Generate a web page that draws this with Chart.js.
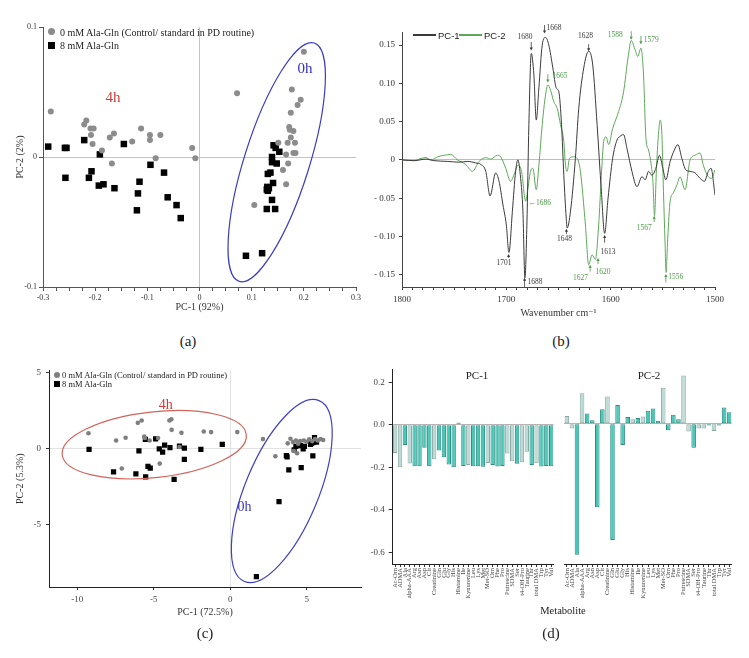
<!DOCTYPE html>
<html lang="en">
<head>
<meta charset="UTF-8">
<title>PCA scores and loadings</title>
<script src="https://cdn.jsdelivr.net/npm/chart.js"></script>
<style>
    body { margin: 0; background: #fff; }
    #figure { position: relative; width: 749px; height: 658px; overflow: hidden;
              font-family: "Liberation Serif", "DejaVu Serif", serif; color: #222; }
    #figure canvas { position: absolute; }
    .txt { position: absolute; transform: translate(-50%, -50%); white-space: nowrap; }
    .leg { position: absolute; transform: translateY(-50%); white-space: nowrap; }
    .sym { position: absolute; }
</style>
</head>
<body>
<div id="figure">
    <canvas id="chartA" width="370" height="330" style="left:0;top:0"></canvas>
    <canvas id="chartB" width="379" height="330" style="left:370px;top:0"></canvas>
    <canvas id="chartC" width="370" height="270" style="left:0;top:360px"></canvas>
    <canvas id="chartD1" width="190" height="290" style="left:370px;top:360px"></canvas>
    <canvas id="chartD2" width="180" height="290" style="left:560px;top:360px"></canvas>

    <!-- legend (a) -->
    <span class="sym" style="left:48px;top:28px;width:7px;height:7px;border-radius:50%;background:#8c8c8c"></span>
    <div class="leg" style="left:60px;top:32px;font-size:10px">0 mM Ala-Gln (Control/ standard in PD routine)</div>
    <span class="sym" style="left:48px;top:42px;width:7px;height:7px;background:#000"></span>
    <div class="leg" style="left:60px;top:45px;font-size:10px">8 mM Ala-Gln</div>

    <!-- legend (b) -->
    <span class="sym" style="left:413px;top:34px;width:23px;height:2px;background:#3a3a3a"></span>
    <div class="leg" style="left:438px;top:35px;font-size:9.5px;font-family:'Liberation Sans',Arial,sans-serif">PC-1</div>
    <span class="sym" style="left:459px;top:34px;width:23px;height:2px;background:#5ea85a"></span>
    <div class="leg" style="left:484px;top:35px;font-size:9.5px;font-family:'Liberation Sans',Arial,sans-serif">PC-2</div>

    <!-- legend (c) -->
    <span class="sym" style="left:54px;top:372px;width:6px;height:6px;border-radius:50%;background:#7f7f7f"></span>
    <div class="leg" style="left:62px;top:375px;font-size:8.5px">0 mM Ala-Gln (Control/ standard in PD routine)</div>
    <span class="sym" style="left:54px;top:381px;width:6px;height:6px;background:#000"></span>
    <div class="leg" style="left:62px;top:384px;font-size:8.5px">8 mM Ala-Gln</div>

    <!-- facet strips and shared title (d) -->
    <div class="txt" style="left:477px;top:375px;font-size:11px">PC-1</div>
    <div class="txt" style="left:649px;top:375px;font-size:11px">PC-2</div>
    <div class="txt" style="left:563px;top:610px;font-size:10.5px">Metabolite</div>

    <!-- panel captions -->
    <div class="txt" style="left:188px;top:341px;font-size:15px">(a)</div>
    <div class="txt" style="left:561px;top:341px;font-size:15px">(b)</div>
    <div class="txt" style="left:205px;top:633px;font-size:15px">(c)</div>
    <div class="txt" style="left:551px;top:633px;font-size:15px">(d)</div>
</div>

<script>
    const SERIF = '"Liberation Serif", "DejaVu Serif", serif';

    // ---- (a) FTIR PCA scores ----
    const scoresA_ctrl = [[-0.285, 0.035], [-0.217, 0.028], [-0.221, 0.025], [-0.209, 0.022], [-0.203, 0.022], [-0.208, 0.017],
        [-0.205, 0.010], [-0.187, 0.005], [-0.168, -0.005], [-0.172, 0.015], [-0.164, 0.018], [-0.129, 0.012], [-0.112, 0.022],
        [-0.095, 0.017], [-0.095, 0.013], [-0.075, 0.017], [-0.084, -0.001], [-0.014, 0.007], [-0.008, -0.001], [0.072, 0.049],
        [0.200, 0.081], [0.177, 0.052], [0.194, 0.044], [0.188, 0.040], [0.175, 0.034], [0.172, 0.023], [0.173, 0.021],
        [0.180, 0.020], [0.175, 0.015], [0.183, 0.011], [0.169, 0.011], [0.151, 0.011], [0.180, 0.003], [0.184, 0.003],
        [0.166, 0.002], [0.170, -0.005], [0.160, -0.010], [0.166, -0.021], [0.105, -0.037]];
    const scoresA_ala = [[-0.290, 0.008], [-0.258, 0.007], [-0.255, 0.007], [-0.257, -0.016], [-0.221, 0.013], [-0.191, 0.002],
        [-0.207, -0.011], [-0.212, -0.016], [-0.193, -0.022], [-0.184, -0.021], [-0.163, -0.024], [-0.145, 0.010], [-0.115, -0.019],
        [-0.118, -0.028], [-0.120, -0.041], [-0.094, -0.006], [-0.068, -0.012], [-0.061, -0.031], [-0.044, -0.037], [-0.036, -0.047],
        [0.089, -0.076], [0.120, -0.074], [0.142, 0.009], [0.146, 0.007], [0.153, 0.004], [0.139, 0.000], [0.139, -0.004],
        [0.148, -0.005], [0.131, -0.013], [0.136, -0.012], [0.141, -0.020], [0.130, -0.023], [0.129, -0.025], [0.131, -0.026],
        [0.133, -0.024], [0.139, -0.033], [0.129, -0.040], [0.145, -0.040]];
    const xTicksA = [-0.3, -0.2, -0.1, 0, 0.1, 0.2, 0.3];
    const xLabelsA = ['-0.3', '-0.2', '-0.1', '0', '0.1', '0.2', '0.3'];
    const yTicksA = [-0.1, 0, 0.1];
    const yLabelsA = ['-0.1', '0', '0.1'];

    // ---- (b) FTIR loadings ----
    const wavenumberPC1 = [1800, 1788.2, 1777.1, 1769.4, 1756.1, 1745.5, 1736.9, 1729.3, 1724.5, 1719.7, 1715.6, 1710.2, 1707.0,
        1703.2, 1700.0, 1697.5, 1694.2, 1691.1, 1688.9, 1686.3, 1684.1, 1682.2, 1680.3, 1678.4, 1676.1, 1673.6, 1671.3, 1668.8,
        1665.6, 1662.4, 1659.3, 1655.4, 1652.2, 1649.7, 1647.1, 1644.9, 1642.6, 1641.7, 1638.5, 1633.8, 1630.6, 1625.8, 1621.1,
        1617.2, 1613.0, 1608.9, 1605.8, 1602.5, 1598.1, 1593.9, 1590.8, 1587.6, 1584.4, 1579.6, 1574.8, 1570.0, 1566.9, 1563.7,
        1560.5, 1556.7, 1553.2, 1550.0, 1547.1, 1543.0, 1538.9, 1535.6, 1531.8, 1528.0, 1523.9, 1519.1, 1514.3, 1510.2, 1506.4,
        1503.8, 1500];
    const loadingPC1 = [0, -0.001, 0.001, -0.001, -0.002, -0.003, -0.002, -0.004, -0.006, -0.015, -0.047, -0.017, -0.028,
        -0.059, -0.085, -0.121, -0.067, -0.015, 0.0, -0.024, -0.067, -0.154, -0.085, 0.046, 0.139, 0.111, 0.052, 0.094,
        0.150, 0.160, 0.150, 0.120, 0.094, 0.089, 0.046, -0.02, -0.076, -0.089, -0.067, 0.002, 0.067, 0.12, 0.142,
        0.124, 0.046, -0.041, -0.096, -0.05, 0.002, 0.026, 0.031, 0.033, 0.015, -0.015, -0.035, -0.022, -0.026, -0.015,
        -0.02, -0.011, 0.006, -0.011, -0.026, -0.002, 0.013, 0.02, 0.002, -0.013, -0.015, -0.017, -0.024, -0.028, -0.015,
        -0.011, -0.046];
    const wavenumberPC2 = [1800, 1788.2, 1781.8, 1777.1, 1772.3, 1765.9, 1759.9, 1753.2, 1746.8, 1738.9, 1732.5, 1726.1, 1719.7,
        1715.0, 1708.6, 1705.4, 1700.6, 1695.9, 1692.0, 1688.9, 1685.4, 1681.5, 1679.3, 1676.8, 1674.6, 1671.3, 1668.8, 1665.6,
        1662.4, 1660.2, 1657.6, 1654.5, 1651.2, 1648.1, 1644.9, 1643.3, 1641.7, 1639.5, 1635.4, 1632.1, 1629.0, 1624.2, 1621.1,
        1617.8, 1614.7, 1611.5, 1608.9, 1606.7, 1604.4, 1601.9, 1598.1, 1592.4, 1587.6, 1583.4, 1580.3, 1576.4, 1574.0, 1571.0,
        1568.5, 1566.2, 1563.7, 1561.1, 1559.5, 1558.0, 1556.1, 1554.2, 1552.5, 1550.9, 1549.4, 1547.9, 1546.9, 1545.3, 1543.0,
        1539.9, 1536.6, 1533.5, 1528.7, 1523.9, 1519.1, 1514.3, 1511.2, 1506.4, 1503.2, 1500];
    const loadingPC2 = [0, -0.001, 0.002, 0.003, 0.0, 0.004, 0.006, 0.007, 0.0, -0.006, -0.015, -0.002, 0.003,
        0.001, 0.006, 0.004, -0.011, -0.028, -0.017, -0.007, -0.015, -0.054, -0.037, -0.015, -0.011, -0.039, -0.007, 0.046,
        0.085, 0.098, 0.091, 0.076, 0.067, 0.046, 0.024, -0.007, -0.015, 0.002, 0.004, 0.002, -0.015, -0.085, -0.137,
        -0.124, -0.13, -0.085, -0.02, 0.024, 0.030, 0.020, 0.041, 0.063, 0.089, 0.133, 0.156, 0.143, 0.135, 0.146,
        0.111, 0.028, 0.013, -0.007, -0.028, -0.073, -0.011, 0.033, 0.052, 0.033, -0.041, -0.107, -0.147, -0.102, -0.054,
        -0.043, -0.033, -0.022, -0.039, 0.0, 0.006, 0.009, -0.007, -0.022, -0.024, -0.013];
    const xTicksB = [1800, 1700, 1600, 1500];
    const xLabelsB = ['1800', '1700', '1600', '1500'];
    const yTicksB = [-0.15, -0.1, -0.05, 0, 0.05, 0.1, 0.15];
    const yLabelsB = ['- 0.15', '- 0.10', '- 0.05', '0', '0.05', '0.10', '0.15'];

    // ---- (c) metabolite PCA scores ----
    const scoresC_ctrl = [[-9.27, 1.02], [-7.46, 0.54], [-6.84, 0.72], [-7.09, -1.30], [-6.04, 1.70], [-5.79, 1.85], [-5.62, 0.80],
        [-5.58, 0.70], [-5.27, 0.54], [-4.72, 0.70], [-4.61, -0.98], [-3.98, 1.85], [-3.85, 1.93], [-3.83, 1.24], [-3.19, 1.04],
        [-3.32, 0.11], [-1.73, 1.13], [-1.25, 1.09], [0.46, 1.09], [2.14, 0.63], [2.95, -0.50], [3.76, 0.35], [3.94, 0.65],
        [4.11, 0.43], [4.29, 0.54], [4.44, 0.33], [4.57, 0.50], [4.16, -0.15], [4.37, -0.30], [4.81, 0.54], [4.99, 0.46],
        [5.16, 0.61], [5.36, 0.50], [5.55, 0.63], [5.73, 0.54], [5.90, 0.63], [6.08, 0.57]];
    const scoresC_ala = [[-9.23, -0.04], [-7.63, -1.52], [-6.17, -1.65], [-5.97, -0.15], [-5.55, 0.61], [-5.53, -1.85], [-5.38, -1.17],
        [-5.23, -1.28], [-4.88, 0.65], [-4.64, -0.02], [-4.42, -0.22], [-4.29, 0.24], [-3.94, 0.07], [-3.67, -2.02], [-3.32, 0.17],
        [-3.00, 0.04], [-3.00, -0.70], [-1.92, -0.04], [-0.52, 0.28], [1.71, -8.41], [3.19, -3.48], [3.67, -0.46], [3.72, -0.54],
        [3.83, -1.39], [4.18, -0.07], [4.29, 0.15], [4.59, 0.20], [4.64, -1.24], [4.77, -0.02], [4.85, 0.15], [5.25, 0.28],
        [5.29, 0.35], [5.40, -0.48], [5.42, 0.39], [5.51, 0.72], [5.64, 0.43]];
    const xTicksC = [-10, -5, 0, 5];
    const xLabelsC = ['-10', '-5', '0', '5'];
    const yTicksC = [-5, 0, 5];
    const yLabelsC = ['-5', '0', '5'];

    // ---- (d) metabolite loadings ----
    const metabolites = ['Ac-Orn', 'ADMA', 'Ala', 'alpha-AAA', 'Arg', 'Asn', 'Asp', 'Cit', 'Creatinine', 'Gln', 'Glu', 'Gly',
        'His', 'Histamine', 'Ile', 'Kynurenine', 'Leu', 'Lys', 'Met', 'Met-SO', 'Orn', 'Phe', 'Pro', 'Putrescine', 'SDMA',
        'Ser', 't4-OH-Pro', 'Taurine', 'Thr', 'total DMA', 'Trp', 'Tyr', 'Val'];
    const metaboliteClass = ['BA', 'BA', 'AA', 'BA', 'AA', 'AA', 'AA', 'AA', 'BA', 'AA', 'AA', 'AA',
        'AA', 'BA', 'AA', 'BA', 'AA', 'AA', 'AA', 'BA', 'AA', 'AA', 'AA', 'BA', 'BA',
        'AA', 'BA', 'BA', 'AA', 'BA', 'AA', 'AA', 'AA'];
    const loadingsD_PC1 = [-0.133, -0.200, -0.096, -0.183, -0.195, -0.195, -0.108, -0.195, -0.163, -0.121, -0.153, -0.187,
        -0.200, 0.010, -0.194, -0.189, -0.195, -0.195, -0.198, -0.180, -0.190, -0.197, -0.194, -0.135, -0.172,
        -0.184, -0.177, -0.127, -0.190, -0.181, -0.197, -0.194, -0.195];
    const loadingsD_PC2 = [0.036, -0.023, -0.612, 0.142, 0.048, 0.016, -0.390, 0.068, 0.127, -0.543, 0.087, -0.099,
        0.031, 0.021, 0.026, 0.034, 0.060, 0.071, 0.014, 0.168, -0.031, 0.042, 0.021, 0.225, -0.036,
        -0.112, -0.022, -0.022, -0.008, -0.034, -0.008, 0.076, 0.054];
    const yTicksD = [-0.6, -0.4, -0.2, 0, 0.2];
    const yLabelsD = ['-0.6', '-0.4', '-0.2', '0.0', '0.2'];

    // ---------- helpers ----------
    Chart.defaults.font.family = SERIF;
    Chart.defaults.animation = false;
    Chart.defaults.responsive = false;
    Chart.defaults.plugins.legend.display = false;
    Chart.defaults.plugins.tooltip.enabled = false;

    function stepTicks(min, max, step) {
        const out = [];
        const n = Math.round((max - min) / step);
        for (let i = 0; i <= n; i++) out.push(+(min + i * step).toFixed(6));
        return out;
    }
    const tickLabel = (values, labels) => v => {
        const i = values.findIndex(t => Math.abs(t - v) < 1e-6);
        return i < 0 ? '' : labels[i];
    };
    const zeroLine = col => c => (c.tick && Math.abs(c.tick.value) < 1e-9) ? col : 'rgba(0,0,0,0)';
    const setTicks = vals => s => { s.ticks = vals.map(v => ({value: v})); };
    const pts = pairs => pairs.map(p => ({x: p[0], y: p[1]}));
    const line = (xs, ys) => xs.map((x, i) => ({x: x, y: ys[i]}));

    // ellipses, peak labels, arrows drawn in data space
    const overlay = {
        id: 'overlay',
        afterDatasetsDraw(chart, args, opts) {
            const {ctx} = chart;
            const x = chart.scales.x, y = chart.scales.y;
            ctx.save();
            (opts.ellipses || []).forEach(e => {
                const cx = x.getPixelForValue(e.center[0]), cy = y.getPixelForValue(e.center[1]);
                const ex = x.getPixelForValue(e.end[0]), ey = y.getPixelForValue(e.end[1]);
                const a = Math.hypot(ex - cx, ey - cy);
                ctx.beginPath();
                ctx.ellipse(cx, cy, a, a * e.ratio, Math.atan2(ey - cy, ex - cx), 0, Math.PI * 2);
                ctx.strokeStyle = e.color;
                ctx.lineWidth = 1.2;
                ctx.stroke();
            });
            (opts.arrows || []).forEach(ar => {
                const px = x.getPixelForValue(ar.x);
                const y0 = y.getPixelForValue(ar.from), y1 = y.getPixelForValue(ar.to);
                const dir = y1 > y0 ? 1 : -1;
                ctx.strokeStyle = ar.color;
                ctx.fillStyle = ar.color;
                ctx.lineWidth = 0.8;
                ctx.beginPath();
                ctx.moveTo(px, y0);
                ctx.lineTo(px, y1 - dir * 2);
                ctx.stroke();
                ctx.beginPath();
                ctx.moveTo(px, y1);
                ctx.lineTo(px - 1.6, y1 - dir * 3);
                ctx.lineTo(px + 1.6, y1 - dir * 3);
                ctx.closePath();
                ctx.fill();
            });
            (opts.labels || []).forEach(l => {
                ctx.font = l.font;
                ctx.fillStyle = l.color;
                ctx.textAlign = l.align || 'center';
                ctx.textBaseline = 'middle';
                ctx.fillText(l.text, x.getPixelForValue(l.x), y.getPixelForValue(l.y));
            });
            ctx.restore();
        }
    };

    // ---------- (a) ----------
    new Chart(document.getElementById('chartA'), {
        type: 'scatter',
        data: {
            datasets: [
                {data: pts(scoresA_ctrl), pointStyle: 'circle', pointRadius: 3, backgroundColor: '#8c8c8c', borderWidth: 0},
                {data: pts(scoresA_ala), pointStyle: 'rect', pointRadius: 4.6, backgroundColor: '#000', borderWidth: 0}
            ]
        },
        options: {
            layout: {padding: {top: 27, right: 14, left: 0, bottom: 0}},
            scales: {
                x: {
                    type: 'linear', min: -0.3, max: 0.3,
                    afterBuildTicks: setTicks(stepTicks(-0.3, 0.3, 0.025)),
                    afterFit: s => { s.height = 43; },
                    grid: {color: zeroLine('#c4c4c4'), tickColor: '#555', tickLength: 4},
                    border: {color: '#555'},
                    ticks: {autoSkip: false, maxRotation: 0, padding: 2, font: {size: 8}, color: '#333',
                        callback: tickLabel(xTicksA, xLabelsA)},
                    title: {display: true, text: 'PC-1 (92%)', font: {size: 10}, color: '#333', padding: {bottom: 17}}
                },
                y: {
                    min: -0.1, max: 0.1,
                    afterBuildTicks: setTicks(yTicksA),
                    afterFit: s => { s.width = 43; },
                    grid: {color: zeroLine('#c4c4c4'), tickColor: '#555', tickLength: 4},
                    border: {color: '#555'},
                    ticks: {padding: 2, font: {size: 8}, color: '#333', callback: tickLabel(yTicksA, yLabelsA)},
                    title: {display: true, text: 'PC-2 (2%)', font: {size: 10}, color: '#333', padding: {top: 14}}
                }
            },
            plugins: {
                overlay: {
                    ellipses: [{center: [0.148, -0.004], end: [0.220, 0.0877], ratio: 0.26, color: '#3b3bc4'}],
                    labels: [
                        {text: '4h', x: -0.166, y: 0.045, font: '15px ' + SERIF, color: '#d23a3a'},
                        {text: '0h', x: 0.202, y: 0.068, font: '15px ' + SERIF, color: '#2f2fc0'}
                    ]
                }
            }
        },
        plugins: [overlay]
    });

    // ---------- (b) ----------
    const DARK = '#3a3a3a', GREEN = '#5ea85a', GTEXT = '#4e9a48';
    const PF = '7.5px ' + SERIF;
    const peaks = [
        {text: '1680', x: 1682.2, y: 0.160, color: DARK, arrow: [1676.1, 0.154, 0.143]},
        {text: '1668', x: 1661.5, y: 0.172, color: DARK, align: 'left', arrow: [1663.4, 0.176, 0.165]},
        {text: '1628', x: 1624.2, y: 0.162, color: DARK, arrow: [1621.1, 0.151, 0.142]},
        {text: '1701', x: 1702.3, y: -0.135, color: DARK, arrow: [1697.8, -0.128, -0.123]},
        {text: '1688', x: 1679.6, y: -0.160, color: DARK, align: 'left', arrow: [1682.5, -0.166, -0.154]},
        {text: '1648', x: 1644.3, y: -0.104, color: DARK, arrow: [1642.4, -0.097, -0.09]},
        {text: '1613', x: 1602.5, y: -0.120, color: DARK, arrow: [1605.8, -0.108, -0.098]},
        {text: '1665', x: 1655.7, y: 0.109, color: GTEXT, align: 'left', arrow: [1660.2, 0.112, 0.101]},
        {text: '\u21901686', x: 1678.7, y: -0.0557, color: GTEXT, align: 'left'},
        {text: '1627', x: 1629.0, y: -0.154, color: GTEXT, arrow: [1619.7, -0.146, -0.137]},
        {text: '1620', x: 1614.6, y: -0.146, color: GTEXT, align: 'left', arrow: [1612.1, -0.136, -0.128]},
        {text: '1588', x: 1595.5, y: 0.163, color: GTEXT, arrow: [1580.3, 0.168, 0.157]},
        {text: '1579', x: 1568.3, y: 0.157, color: GTEXT, align: 'left', arrow: [1571.0, 0.162, 0.151]},
        {text: '1567', x: 1567.8, y: -0.089, color: GTEXT, arrow: [1558.3, -0.081, -0.073]},
        {text: '1556', x: 1544.9, y: -0.153, color: GTEXT, align: 'left', arrow: [1547.1, -0.160, -0.149]}
    ];
    new Chart(document.getElementById('chartB'), {
        type: 'line',
        data: {
            datasets: [
                {data: line(wavenumberPC1, loadingPC1), borderColor: DARK, borderWidth: 1, pointRadius: 0,
                    cubicInterpolationMode: 'monotone', fill: false},
                {data: line(wavenumberPC2, loadingPC2), borderColor: GREEN, borderWidth: 1, pointRadius: 0,
                    cubicInterpolationMode: 'monotone', fill: false}
            ]
        },
        options: {
            layout: {padding: {top: 32, right: 34, left: 0, bottom: 0}},
            scales: {
                x: {
                    type: 'linear', min: 1500, max: 1800, reverse: true,
                    afterBuildTicks: setTicks(stepTicks(1500, 1800, 10)),
                    afterFit: s => { s.height = 43; },
                    grid: {drawOnChartArea: false, tickColor: '#444', tickLength: 3},
                    border: {color: '#444'},
                    ticks: {autoSkip: false, maxRotation: 0, padding: 4, font: {size: 9}, color: '#333',
                        callback: tickLabel(xTicksB, xLabelsB)},
                    title: {display: true, text: 'Wavenumber cm\u207B\u00B9', font: {size: 10}, color: '#333', padding: {bottom: 11}}
                },
                y: {
                    min: -0.166, max: 0.167,
                    afterBuildTicks: setTicks(yTicksB),
                    afterFit: s => { s.width = 32; },
                    grid: {color: zeroLine('#bdbdbd'), tickColor: '#444', tickLength: 3},
                    border: {color: '#444'},
                    ticks: {padding: 4, font: {size: 9}, color: '#333', callback: tickLabel(yTicksB, yLabelsB)}
                }
            },
            plugins: {
                overlay: {
                    labels: peaks.map(p => ({text: p.text, x: p.x, y: p.y, color: p.color, align: p.align, font: PF})),
                    arrows: peaks.filter(p => p.arrow).map(p => ({x: p.arrow[0], from: p.arrow[1], to: p.arrow[2], color: p.color}))
                }
            }
        },
        plugins: [overlay]
    });

    // ---------- (c) ----------
    new Chart(document.getElementById('chartC'), {
        type: 'scatter',
        data: {
            datasets: [
                {data: pts(scoresC_ctrl), pointStyle: 'circle', pointRadius: 2.3, backgroundColor: '#7f7f7f', borderWidth: 0},
                {data: pts(scoresC_ala), pointStyle: 'rect', pointRadius: 3.7, backgroundColor: '#000', borderWidth: 0}
            ]
        },
        options: {
            layout: {padding: {top: 8, right: 9, left: 0, bottom: 0}},
            scales: {
                x: {
                    type: 'linear', min: -11.85, max: 8.55,
                    afterBuildTicks: setTicks(xTicksC),
                    afterFit: s => { s.height = 43; },
                    grid: {color: zeroLine('#e2e2e2'), tickColor: '#333', tickLength: 3},
                    border: {color: '#222'},
                    ticks: {maxRotation: 0, padding: 4, font: {size: 9}, color: '#444', callback: tickLabel(xTicksC, xLabelsC)},
                    title: {display: true, text: 'PC-1 (72.5%)', font: {size: 10}, color: '#333', padding: {bottom: 12}}
                },
                y: {
                    min: -9.1, max: 5.15,
                    afterBuildTicks: setTicks(yTicksC),
                    afterFit: s => { s.width = 49; },
                    grid: {color: zeroLine('#e2e2e2'), tickColor: '#333', tickLength: 3},
                    border: {color: '#222'},
                    ticks: {padding: 5, font: {size: 9}, color: '#444', callback: tickLabel(yTicksC, yLabelsC)},
                    title: {display: true, text: 'PC-2 (5.3%)', font: {size: 10}, color: '#333', padding: {top: 14}}
                }
            },
            plugins: {
                overlay: {
                    ellipses: [
                        {center: [-4.97, 0.26], end: [1.05, 0.92], ratio: 0.355, color: '#d0645a'},
                        {center: [3.37, -2.79], end: [5.81, 3.16], ratio: 0.375, color: '#4040c0'}
                    ],
                    labels: [
                        {text: '4h', x: -4.22, y: 2.85, font: '14px ' + SERIF, color: '#c83a3a'},
                        {text: '0h', x: 0.94, y: -3.83, font: '14px ' + SERIF, color: '#3535c0'}
                    ]
                }
            }
        },
        plugins: [overlay]
    });

    // ---------- (d) ----------
    const fills = metaboliteClass.map(c => c === 'AA' ? '#45c8b8' : '#bcdad6');
    const edges = metaboliteClass.map(c => c === 'AA' ? '#2f8a80' : '#8ea9a5');

    function loadingFacet(id, values, showAxis, padRight, axisWidth) {
        return new Chart(document.getElementById(id), {
            type: 'bar',
            data: {
                labels: metabolites,
                datasets: [{data: values, backgroundColor: fills, borderColor: edges, borderWidth: 1,
                    borderSkipped: false, barPercentage: 0.9, categoryPercentage: 1}]
            },
            options: {
                layout: {padding: {top: 8, right: padRight, left: 0, bottom: 0}},
                scales: {
                    x: {
                        offset: true,
                        afterFit: s => { s.height = 86; },
                        grid: {drawOnChartArea: false, offset: false, tickColor: '#333', tickLength: 3},
                        border: {color: '#222'},
                        ticks: {autoSkip: false, minRotation: 90, maxRotation: 90, padding: 1,
                            font: {size: 6.5}, color: '#444'}
                    },
                    y: {
                        min: -0.655, max: 0.26,
                        afterBuildTicks: setTicks(yTicksD),
                        afterFit: s => { s.width = axisWidth; },
                        grid: {color: zeroLine('#b5b5b5'), tickColor: '#333', tickLength: 4, drawTicks: showAxis},
                        border: {display: showAxis, color: '#222'},
                        ticks: {display: showAxis, padding: 4, font: {size: 9}, color: '#444',
                            callback: tickLabel(yTicksD, yLabelsD)}
                    }
                }
            }
        });
    }
    loadingFacet('chartD1', loadingsD_PC1, true, 0.7, 22.7);
    loadingFacet('chartD2', loadingsD_PC2, false, 8.3, 4.3);
</script>
</body>
</html>
